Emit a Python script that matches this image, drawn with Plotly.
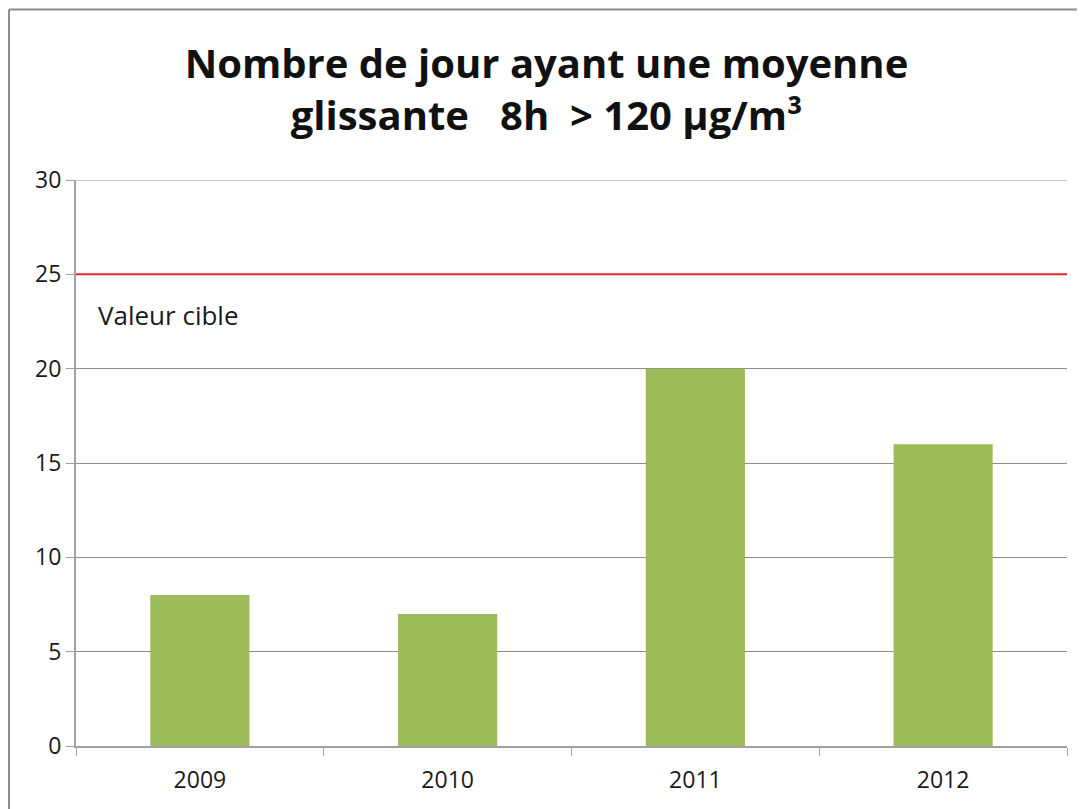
import plotly.graph_objects as go

years = ["2009", "2010", "2011", "2012"]
days = [8, 7, 20, 16]
target_value = 25
target_label = "Valeur cible"
y_ticks = [0, 5, 10, 15, 20, 25, 30]
y_max = 30

fig = go.Figure()
fig.add_trace(go.Bar(x=years, y=days, marker=dict(color="#9BBB59", line=dict(width=0)),
                     showlegend=False))

# top gridline at the axis maximum
fig.add_shape(type="line", xref="paper", yref="y", x0=0, x1=1, y0=y_max, y1=y_max,
              line=dict(color="#8C8C8C", width=1), layer="below")
fig.add_shape(type="line", xref="paper", yref="y", x0=0, x1=1, y0=target_value, y1=target_value,
              line=dict(color="#E0282B", width=2), layer="above")
fig.add_annotation(text=target_label, xref="paper", yref="y", x=0.02, y=22.85,
                   xanchor="left", yanchor="middle", showarrow=False,
                   font=dict(size=26, color="#1A1A1A"))

# outer chart border (top and left visible)
fig.add_shape(type="line", xref="paper", yref="paper", x0=-0.0676, x1=1.03, y0=1.3012, y1=1.3012,
              line=dict(color="#8C8C8C", width=2))
fig.add_shape(type="line", xref="paper", yref="paper", x0=-0.0676, x1=-0.0676, y0=1.3012, y1=-0.13,
              line=dict(color="#8C8C8C", width=2))

fig.update_layout(
    width=1077, height=801,
    margin=dict(l=68, r=18, t=172, b=63),
    paper_bgcolor="white", plot_bgcolor="white",
    bargap=0.6,
    font=dict(family="Open Sans, sans-serif", color="#1A1A1A"),
    title=dict(text="<b>Nombre de jour ayant une moyenne<br>glissante   8h  > 120 µg/m³</b>",
               x=0.5, xanchor="center", y=0.912, yanchor="middle",
               font=dict(size=40, color="#111111")),
)
fig.update_yaxes(range=[0, y_max], tickvals=y_ticks, showgrid=True, gridcolor="#8C8C8C", gridwidth=1,
                 showline=True, linecolor="#A0A0A0", linewidth=2, ticks="outside", ticklen=8,
                 tickcolor="#A0A0A0", tickfont=dict(size=23), zeroline=False)
fig.update_xaxes(showline=True, linecolor="#A0A0A0", linewidth=2, ticks="outside", ticklen=8,
                 tickcolor="#A0A0A0", tickson="boundaries", tickfont=dict(size=23),
                 ticklabelstandoff=12)

fig.write_html("out.html")
